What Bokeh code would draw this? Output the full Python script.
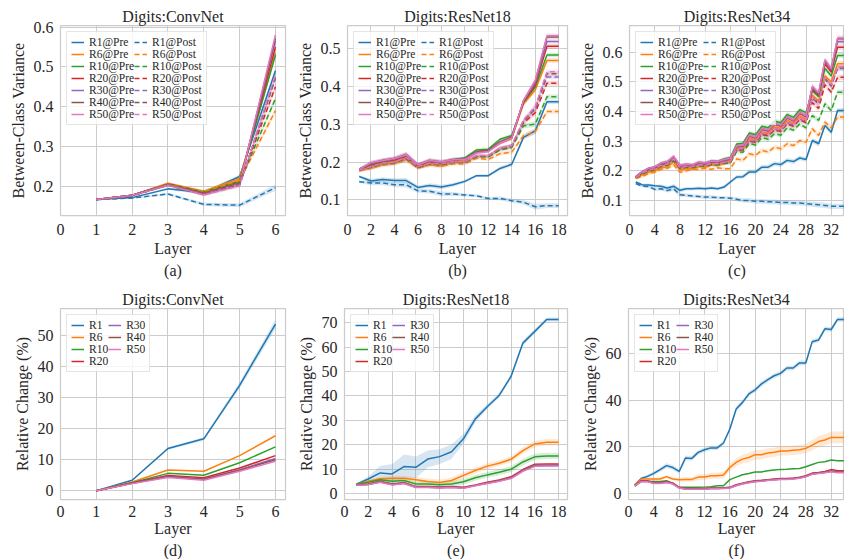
from bokeh.plotting import figure
from bokeh.layouts import column, row
from bokeh.models import Range1d, FixedTicker, Legend, LegendItem, Title
from bokeh.embed import file_html
from bokeh.resources import INLINE

FONT = "Times New Roman"
TEXT = "#262626"
GRID = "#cccccc"
FS = "16px"

ratios = ["R1", "R6", "R10", "R20", "R30", "R40", "R50"]
colors = ["#1f77b4", "#ff7f0e", "#2ca02c", "#d62728", "#9467bd", "#8c564b", "#e377c2"]

layers_convnet = [1, 2, 3, 4, 5, 6]
layers_resnet18 = list(range(1, 19))
layers_resnet34 = list(range(1, 35))

xticks_convnet = [0, 1, 2, 3, 4, 5, 6]
xticks_resnet18 = [0, 2, 4, 6, 8, 10, 12, 14, 16, 18]
xticks_resnet34 = [0, 4, 8, 12, 16, 20, 24, 28, 32]

convnet_pre = {
    "R1":  [0.166, 0.171, 0.193, 0.183, 0.224, 0.490],
    "R6":  [0.166, 0.177, 0.207, 0.187, 0.219, 0.535],
    "R10": [0.166, 0.177, 0.205, 0.185, 0.213, 0.530],
    "R20": [0.166, 0.177, 0.205, 0.183, 0.210, 0.550],
    "R30": [0.166, 0.177, 0.204, 0.181, 0.208, 0.565],
    "R40": [0.166, 0.177, 0.204, 0.180, 0.206, 0.572],
    "R50": [0.166, 0.177, 0.203, 0.179, 0.205, 0.580],
}
convnet_post = {
    "R1":  [0.166, 0.170, 0.180, 0.154, 0.152, 0.196],
    "R6":  [0.166, 0.176, 0.205, 0.185, 0.214, 0.390],
    "R10": [0.166, 0.176, 0.204, 0.183, 0.210, 0.420],
    "R20": [0.166, 0.176, 0.203, 0.181, 0.206, 0.450],
    "R30": [0.166, 0.176, 0.203, 0.180, 0.204, 0.470],
    "R40": [0.166, 0.176, 0.202, 0.179, 0.202, 0.475],
    "R50": [0.166, 0.176, 0.202, 0.178, 0.201, 0.480],
}
convnet_spread = [0.001, 0.002, 0.003, 0.004, 0.005, 0.008]

resnet18_pre = {
    "R1":  [0.162, 0.150, 0.154, 0.151, 0.151, 0.133, 0.138, 0.134, 0.140, 0.149, 0.164, 0.164, 0.183, 0.194, 0.265, 0.282, 0.359, 0.359],
    "R6":  [0.178, 0.187, 0.196, 0.200, 0.211, 0.187, 0.197, 0.193, 0.201, 0.206, 0.226, 0.230, 0.250, 0.262, 0.353, 0.390, 0.468, 0.468],
    "R10": [0.180, 0.192, 0.201, 0.206, 0.215, 0.190, 0.201, 0.197, 0.206, 0.211, 0.232, 0.234, 0.260, 0.270, 0.357, 0.398, 0.482, 0.482],
    "R20": [0.180, 0.194, 0.202, 0.206, 0.216, 0.191, 0.202, 0.198, 0.205, 0.208, 0.227, 0.231, 0.253, 0.266, 0.358, 0.403, 0.505, 0.505],
    "R30": [0.181, 0.196, 0.203, 0.208, 0.218, 0.192, 0.203, 0.199, 0.206, 0.208, 0.226, 0.230, 0.252, 0.265, 0.360, 0.408, 0.518, 0.518],
    "R40": [0.181, 0.197, 0.204, 0.209, 0.220, 0.193, 0.204, 0.200, 0.206, 0.208, 0.225, 0.229, 0.251, 0.264, 0.361, 0.412, 0.530, 0.530],
    "R50": [0.181, 0.198, 0.204, 0.209, 0.219, 0.193, 0.204, 0.200, 0.206, 0.207, 0.224, 0.228, 0.250, 0.263, 0.362, 0.415, 0.533, 0.533],
}
resnet18_post = {
    "R1":  [0.148, 0.145, 0.145, 0.140, 0.140, 0.124, 0.123, 0.116, 0.116, 0.113, 0.111, 0.104, 0.104, 0.098, 0.094, 0.082, 0.085, 0.085],
    "R6":  [0.176, 0.184, 0.192, 0.196, 0.206, 0.184, 0.192, 0.189, 0.195, 0.195, 0.210, 0.207, 0.222, 0.226, 0.270, 0.280, 0.333, 0.333],
    "R10": [0.178, 0.186, 0.195, 0.198, 0.209, 0.186, 0.195, 0.192, 0.199, 0.199, 0.214, 0.213, 0.232, 0.238, 0.295, 0.300, 0.372, 0.372],
    "R20": [0.178, 0.187, 0.196, 0.199, 0.210, 0.186, 0.196, 0.193, 0.200, 0.200, 0.215, 0.215, 0.235, 0.241, 0.303, 0.330, 0.408, 0.408],
    "R30": [0.178, 0.187, 0.196, 0.199, 0.211, 0.187, 0.196, 0.194, 0.200, 0.200, 0.216, 0.216, 0.236, 0.242, 0.307, 0.340, 0.424, 0.424],
    "R40": [0.178, 0.188, 0.197, 0.200, 0.211, 0.187, 0.197, 0.194, 0.201, 0.201, 0.216, 0.216, 0.236, 0.243, 0.309, 0.343, 0.433, 0.433],
    "R50": [0.178, 0.188, 0.197, 0.200, 0.212, 0.188, 0.197, 0.195, 0.201, 0.201, 0.217, 0.217, 0.237, 0.243, 0.311, 0.346, 0.438, 0.438],
}
resnet18_spread = [0.003, 0.006, 0.006, 0.006, 0.007, 0.005, 0.006, 0.006, 0.005, 0.004, 0.004, 0.004, 0.005, 0.005, 0.006, 0.008, 0.006, 0.006]

resnet34_pre = {
    "R1":  [0.162, 0.153, 0.152, 0.149, 0.148, 0.142, 0.148, 0.134, 0.139, 0.139, 0.141, 0.139, 0.142, 0.139, 0.145, 0.162, 0.179, 0.180, 0.196, 0.196, 0.212, 0.212, 0.224, 0.221, 0.235, 0.231, 0.243, 0.238, 0.302, 0.291, 0.353, 0.330, 0.403, 0.403],
    "R6":  [0.174, 0.185, 0.195, 0.199, 0.210, 0.213, 0.230, 0.203, 0.207, 0.206, 0.214, 0.212, 0.219, 0.218, 0.225, 0.230, 0.273, 0.276, 0.308, 0.303, 0.330, 0.326, 0.347, 0.343, 0.369, 0.360, 0.384, 0.375, 0.455, 0.435, 0.520, 0.500, 0.561, 0.561],
    "R10": [0.178, 0.193, 0.203, 0.210, 0.221, 0.226, 0.242, 0.214, 0.219, 0.218, 0.227, 0.225, 0.232, 0.231, 0.240, 0.245, 0.290, 0.293, 0.327, 0.322, 0.350, 0.345, 0.368, 0.362, 0.390, 0.380, 0.406, 0.396, 0.470, 0.450, 0.545, 0.520, 0.589, 0.589],
    "R20": [0.179, 0.195, 0.206, 0.211, 0.223, 0.228, 0.245, 0.215, 0.219, 0.217, 0.226, 0.223, 0.230, 0.228, 0.235, 0.239, 0.281, 0.283, 0.317, 0.311, 0.340, 0.334, 0.357, 0.351, 0.379, 0.368, 0.394, 0.383, 0.475, 0.455, 0.560, 0.533, 0.617, 0.617],
    "R30": [0.179, 0.196, 0.207, 0.212, 0.224, 0.229, 0.246, 0.216, 0.220, 0.218, 0.227, 0.224, 0.231, 0.229, 0.236, 0.240, 0.282, 0.284, 0.318, 0.312, 0.341, 0.335, 0.358, 0.352, 0.380, 0.369, 0.395, 0.384, 0.480, 0.458, 0.568, 0.540, 0.635, 0.635],
    "R40": [0.180, 0.197, 0.208, 0.213, 0.225, 0.230, 0.247, 0.217, 0.221, 0.219, 0.228, 0.225, 0.232, 0.230, 0.237, 0.241, 0.283, 0.285, 0.319, 0.313, 0.342, 0.336, 0.359, 0.353, 0.381, 0.370, 0.396, 0.385, 0.482, 0.460, 0.572, 0.543, 0.645, 0.645],
    "R50": [0.180, 0.197, 0.208, 0.213, 0.226, 0.231, 0.249, 0.218, 0.222, 0.220, 0.229, 0.226, 0.233, 0.231, 0.238, 0.242, 0.284, 0.286, 0.320, 0.314, 0.343, 0.337, 0.360, 0.354, 0.382, 0.371, 0.397, 0.386, 0.485, 0.462, 0.575, 0.545, 0.648, 0.648],
}
resnet34_post = {
    "R1":  [0.157, 0.148, 0.147, 0.137, 0.139, 0.133, 0.139, 0.119, 0.117, 0.115, 0.113, 0.111, 0.111, 0.109, 0.109, 0.107, 0.104, 0.100, 0.100, 0.097, 0.097, 0.095, 0.095, 0.093, 0.093, 0.091, 0.091, 0.089, 0.087, 0.085, 0.083, 0.080, 0.080, 0.080],
    "R6":  [0.174, 0.180, 0.190, 0.195, 0.205, 0.208, 0.220, 0.195, 0.200, 0.205, 0.205, 0.208, 0.205, 0.210, 0.207, 0.207, 0.240, 0.235, 0.257, 0.252, 0.269, 0.263, 0.280, 0.274, 0.291, 0.285, 0.302, 0.296, 0.342, 0.319, 0.364, 0.345, 0.381, 0.381],
    "R10": [0.176, 0.188, 0.198, 0.203, 0.214, 0.218, 0.234, 0.207, 0.211, 0.210, 0.216, 0.215, 0.220, 0.219, 0.224, 0.226, 0.265, 0.262, 0.292, 0.287, 0.312, 0.306, 0.325, 0.320, 0.345, 0.337, 0.358, 0.345, 0.386, 0.370, 0.426, 0.403, 0.465, 0.465],
    "R20": [0.177, 0.190, 0.200, 0.205, 0.216, 0.221, 0.237, 0.209, 0.213, 0.212, 0.219, 0.217, 0.223, 0.222, 0.227, 0.230, 0.270, 0.270, 0.300, 0.296, 0.322, 0.318, 0.337, 0.333, 0.358, 0.350, 0.372, 0.362, 0.430, 0.410, 0.490, 0.465, 0.515, 0.515],
    "R30": [0.177, 0.191, 0.201, 0.206, 0.217, 0.222, 0.238, 0.210, 0.214, 0.213, 0.220, 0.218, 0.224, 0.223, 0.228, 0.231, 0.272, 0.273, 0.303, 0.299, 0.326, 0.321, 0.341, 0.336, 0.362, 0.354, 0.376, 0.366, 0.445, 0.425, 0.510, 0.485, 0.545, 0.545],
    "R40": [0.178, 0.191, 0.202, 0.207, 0.218, 0.223, 0.239, 0.211, 0.215, 0.214, 0.221, 0.219, 0.225, 0.224, 0.229, 0.232, 0.273, 0.274, 0.304, 0.300, 0.327, 0.322, 0.342, 0.337, 0.363, 0.355, 0.377, 0.367, 0.447, 0.427, 0.512, 0.487, 0.548, 0.548],
    "R50": [0.178, 0.192, 0.202, 0.207, 0.218, 0.223, 0.240, 0.211, 0.215, 0.214, 0.221, 0.219, 0.225, 0.224, 0.229, 0.232, 0.274, 0.275, 0.305, 0.301, 0.328, 0.323, 0.343, 0.338, 0.364, 0.356, 0.378, 0.368, 0.450, 0.430, 0.515, 0.490, 0.550, 0.550],
}
resnet34_spread = [0.003, 0.004, 0.005, 0.005, 0.006, 0.006, 0.007, 0.007, 0.006, 0.006, 0.006, 0.006, 0.006, 0.006, 0.006, 0.006, 0.007, 0.007, 0.008, 0.008, 0.008, 0.008, 0.008, 0.008, 0.008, 0.008, 0.008, 0.008, 0.009, 0.009, 0.009, 0.009, 0.009, 0.009]

convnet_change = {
    "R1":  [0.0, 3.4, 13.6, 16.7, 33.9, 53.6],
    "R6":  [0.0, 2.8, 6.7, 6.3, 11.3, 17.7],
    "R10": [0.0, 2.6, 5.6, 5.0, 9.0, 14.1],
    "R20": [0.0, 2.5, 4.9, 4.2, 7.3, 11.3],
    "R30": [0.0, 2.4, 4.6, 3.8, 6.8, 10.4],
    "R40": [0.0, 2.4, 4.5, 3.7, 6.6, 10.0],
    "R50": [0.0, 2.3, 4.3, 3.4, 6.3, 9.5],
}
convnet_change_spread = [0.0, 0.3, 0.4, 0.5, 1.0, 1.5]

resnet18_change = {
    "R1":  [3.8, 5.9, 8.4, 8.0, 11.0, 10.7, 14.1, 15.1, 17.1, 22.4, 30.6, 35.6, 40.2, 48.0, 61.7, 66.5, 71.4, 71.4],
    "R6":  [3.8, 5.0, 6.0, 6.2, 6.2, 5.6, 4.9, 4.5, 5.3, 7.4, 9.4, 11.2, 12.4, 14.0, 17.6, 20.3, 21.0, 21.0],
    "R10": [3.8, 4.6, 5.6, 5.0, 5.3, 3.9, 3.9, 3.6, 3.9, 4.8, 6.4, 7.6, 8.7, 9.9, 12.9, 15.0, 15.4, 15.4],
    "R20": [3.5, 3.9, 5.0, 3.9, 4.5, 2.8, 2.8, 2.6, 2.8, 2.5, 3.5, 4.6, 5.5, 6.8, 9.8, 12.0, 12.1, 12.1],
    "R30": [3.4, 3.8, 4.8, 3.7, 4.3, 2.6, 2.6, 2.4, 2.6, 2.3, 3.3, 4.3, 5.2, 6.5, 9.5, 11.6, 11.7, 11.7],
    "R40": [3.4, 3.7, 4.7, 3.6, 4.2, 2.5, 2.5, 2.3, 2.5, 2.2, 3.2, 4.2, 5.1, 6.3, 9.3, 11.4, 11.5, 11.5],
    "R50": [3.3, 3.6, 4.6, 3.5, 4.1, 2.4, 2.4, 2.2, 2.4, 2.1, 3.1, 4.1, 5.0, 6.1, 9.1, 11.1, 11.2, 11.2],
}
resnet18_change_spread_r1 = [0.3, 1.0, 3.0, 4.0, 5.0, 4.5, 3.5, 3.0, 3.0, 2.0, 1.5, 1.0, 1.0, 1.0, 1.0, 1.0, 0.8, 0.8]
resnet18_change_spread = [0.3, 0.5, 0.8, 1.0, 1.0, 1.0, 1.2, 1.2, 1.2, 1.2, 1.2, 1.2, 1.2, 1.2, 1.3, 1.3, 1.3, 1.3]

resnet34_change = {
    "R1":  [3.7, 6.4, 7.3, 8.6, 10.2, 11.9, 11.1, 9.4, 15.2, 15.0, 17.6, 18.7, 19.5, 19.5, 21.6, 27.6, 36.2, 39.0, 42.6, 44.4, 46.9, 48.7, 50.4, 51.4, 53.7, 53.7, 55.9, 55.9, 65.0, 65.7, 70.5, 70.2, 74.5, 74.5],
    "R6":  [3.7, 6.2, 6.2, 6.2, 6.2, 7.2, 6.2, 5.9, 6.0, 6.0, 7.0, 7.0, 7.6, 7.6, 7.9, 11.1, 13.3, 14.7, 15.4, 16.6, 16.6, 17.3, 17.6, 18.2, 18.2, 18.5, 18.7, 19.3, 20.7, 22.2, 22.9, 24.0, 24.0, 24.0],
    "R10": [3.0, 5.4, 5.2, 5.1, 5.1, 5.4, 4.4, 2.6, 2.6, 2.6, 2.6, 2.7, 2.9, 3.3, 3.3, 5.9, 7.0, 8.0, 8.5, 9.2, 9.2, 9.7, 10.0, 10.3, 10.4, 10.6, 10.7, 11.4, 12.4, 13.3, 13.6, 14.3, 14.0, 14.0],
    "R20": [3.5, 5.4, 5.4, 4.7, 4.7, 5.1, 4.4, 2.6, 2.1, 2.1, 2.1, 2.1, 2.3, 2.3, 2.4, 2.6, 3.7, 4.4, 5.0, 5.4, 5.6, 5.9, 6.2, 6.4, 6.4, 6.6, 6.9, 7.6, 8.7, 9.0, 9.4, 10.2, 9.7, 9.7],
    "R30": [3.4, 5.2, 5.2, 4.5, 4.5, 4.9, 4.2, 2.5, 2.0, 2.0, 2.0, 2.0, 2.2, 2.2, 2.3, 2.5, 3.5, 4.2, 4.8, 5.2, 5.4, 5.7, 6.0, 6.2, 6.2, 6.4, 6.7, 7.3, 8.4, 8.7, 9.1, 9.6, 9.2, 9.2],
    "R40": [3.4, 5.1, 5.1, 4.4, 4.4, 4.8, 4.1, 2.4, 1.9, 1.9, 1.9, 1.9, 2.1, 2.1, 2.2, 2.4, 3.4, 4.1, 4.7, 5.1, 5.3, 5.6, 5.9, 6.1, 6.1, 6.3, 6.6, 7.2, 8.3, 8.6, 9.0, 9.5, 9.1, 9.1],
    "R50": [3.3, 5.0, 5.0, 4.3, 4.3, 4.7, 4.0, 2.3, 1.8, 1.8, 1.8, 1.8, 2.0, 2.0, 2.1, 2.3, 3.3, 4.0, 4.6, 5.0, 5.2, 5.5, 5.8, 6.0, 6.0, 6.2, 6.5, 7.1, 8.2, 8.5, 8.9, 9.3, 8.9, 8.9],
}
resnet34_change_spread_r1 = [0.3, 0.6, 0.7, 0.8, 0.9, 1.0, 1.0, 1.0, 1.0, 1.0, 0.9, 0.9, 0.9, 0.9, 0.9, 1.0, 1.0, 1.0, 1.0, 1.0, 1.0, 1.0, 1.0, 1.0, 1.0, 1.0, 1.0, 1.0, 1.0, 1.0, 1.0, 1.0, 1.0, 1.0]
resnet34_change_spread_r6 = [0.3, 0.5, 0.6, 0.6, 0.6, 0.6, 0.7, 0.8, 1.0, 1.0, 1.2, 1.2, 1.3, 1.3, 1.4, 1.6, 1.8, 1.9, 2.0, 2.0, 2.0, 2.0, 2.0, 2.0, 2.0, 2.0, 2.0, 2.0, 2.2, 2.3, 2.4, 2.5, 2.5, 2.5]


def make_panel(title, sub, ylabel, xr, yr, xticks, yticks, width, height, bl, br, bt, bb, xstand):
    p = figure(width=width, height=height, x_range=Range1d(*xr), y_range=Range1d(*yr),
               output_backend="svg", toolbar_location=None,
               min_border_left=bl, min_border_right=br, min_border_top=bt, min_border_bottom=bb,
               background_fill_color="white", border_fill_color="white")
    p.title = Title(text=title, align="center", text_font=FONT, text_font_size=FS,
                    text_font_style="normal", text_color=TEXT, standoff=2)
    p.outline_line_color = GRID
    p.outline_line_width = 1.25
    for ax in (p.xaxis[0], p.yaxis[0]):
        ax.axis_line_color = None
        ax.major_tick_line_color = None
        ax.minor_tick_line_color = None
        ax.major_tick_out = 0
        ax.major_tick_in = 0
        ax.minor_tick_out = 0
        ax.minor_tick_in = 0
        ax.major_label_text_font = FONT
        ax.major_label_text_font_size = FS
        ax.major_label_text_color = TEXT
        ax.axis_label_text_font = FONT
        ax.axis_label_text_font_size = FS
        ax.axis_label_text_font_style = "normal"
        ax.axis_label_text_color = TEXT
    p.xaxis[0].ticker = FixedTicker(ticks=xticks)
    p.yaxis[0].ticker = FixedTicker(ticks=yticks)
    p.xaxis[0].axis_label = "Layer"
    p.yaxis[0].axis_label = ylabel
    p.xaxis[0].major_label_standoff = xstand[0]
    p.xaxis[0].axis_label_standoff = xstand[1]
    p.yaxis[0].major_label_standoff = 7
    p.yaxis[0].axis_label_standoff = 4
    p.xgrid.grid_line_color = GRID
    p.ygrid.grid_line_color = GRID
    p.xgrid.grid_line_width = 1
    p.ygrid.grid_line_width = 1
    p.add_layout(Title(text=sub, align="center", text_font=FONT, text_font_size=FS,
                       text_font_style="normal", text_color=TEXT, standoff=0), "below")
    return p


def band(p, x, y, spread, color):
    lo = [v - s for v, s in zip(y, spread)]
    hi = [v + s for v, s in zip(y, spread)]
    p.varea(x=x, y1=lo, y2=hi, fill_color=color, fill_alpha=0.18)


def add_legend(p, items):
    lg = Legend(items=items, location="top_left", ncols=2,
                label_text_font=FONT, label_text_font_size="11.5px", label_text_color=TEXT,
                glyph_width=13, glyph_height=10, label_height=10, label_width=10,
                label_standoff=5, spacing=0, padding=4, margin=6,
                border_line_color=GRID, border_line_width=1,
                background_fill_color="white", background_fill_alpha=0.8)
    p.add_layout(lg)


def variance_panel(p, x, pre, post, spread):
    for r, c in zip(ratios, colors):
        band(p, x, pre[r], spread, c)
        band(p, x, post[r], spread, c)
    pre_items, post_items = [], []
    for r, c in zip(ratios, colors):
        gl = p.line(x, pre[r], line_color=c, line_width=1.5)
        pre_items.append(LegendItem(label=r + "@Pre", renderers=[gl]))
    for r, c in zip(ratios, colors):
        gl = p.line(x, post[r], line_color=c, line_width=1.5, line_dash="5 3")
        post_items.append(LegendItem(label=r + "@Post", renderers=[gl]))
    add_legend(p, pre_items + post_items)


def change_panel(p, x, data, bands):
    for r, c in zip(ratios, colors):
        if r in bands:
            band(p, x, data[r], bands[r], c)
    items = []
    for r, c in zip(ratios, colors):
        gl = p.line(x, data[r], line_color=c, line_width=1.5)
        items.append(LegendItem(label=r, renderers=[gl]))
    add_legend(p, items)


bcv = "Between-Class Variance"
rc = "Relative Change (%)"
top_st = (8, 2)
bot_st = (6, 0)

pa = make_panel("Digits:ConvNet", "(a)", bcv, (0, 6.28), (0.126, 0.604), xticks_convnet,
                [0.2, 0.3, 0.4, 0.5, 0.6], 293, 280, 60, 8, 25, 65, top_st)
variance_panel(pa, layers_convnet, convnet_pre, convnet_post, convnet_spread)

pb = make_panel("Digits:ResNet18", "(b)", bcv, (0, 18.75), (0.059, 0.56), xticks_resnet18,
                [0.1, 0.2, 0.3, 0.4, 0.5], 282, 280, 51, 8, 25, 65, top_st)
variance_panel(pb, layers_resnet18, resnet18_pre, resnet18_post, resnet18_spread)

pc = make_panel("Digits:ResNet34", "(c)", bcv, (0, 34.1), (0.049, 0.69), xticks_resnet34,
                [0.1, 0.2, 0.3, 0.4, 0.5, 0.6], 269, 280, 53, 0, 25, 65, top_st)
variance_panel(pc, layers_resnet34, resnet34_pre, resnet34_post, resnet34_spread)

pd = make_panel("Digits:ConvNet", "(d)", rc, (0, 6.28), (-2.8, 58.6), xticks_convnet,
                [0, 10, 20, 30, 40, 50], 293, 279, 60, 8, 28, 60, bot_st)
change_panel(pd, layers_convnet, convnet_change, {"R1": convnet_change_spread})

pe = make_panel("Digits:ResNet18", "(e)", rc, (0, 18.75), (-2.5, 75.9), xticks_resnet18,
                [0, 10, 20, 30, 40, 50, 60, 70], 282, 279, 51, 8, 28, 60, bot_st)
change_panel(pe, layers_resnet18, resnet18_change,
             {"R1": resnet18_change_spread_r1, "R6": resnet18_change_spread, "R10": resnet18_change_spread})

pf = make_panel("Digits:ResNet34", "(f)", rc, (0, 34.1), (-2.6, 79.2), xticks_resnet34,
                [0, 20, 40, 60], 269, 279, 53, 0, 28, 60, bot_st)
change_panel(pf, layers_resnet34, resnet34_change,
             {"R1": resnet34_change_spread_r1, "R6": resnet34_change_spread_r6})

layout = column(row(pa, pb, pc), row(pd, pe, pf))

with open("out.html", "w") as f:
    f.write(file_html(layout, INLINE))
